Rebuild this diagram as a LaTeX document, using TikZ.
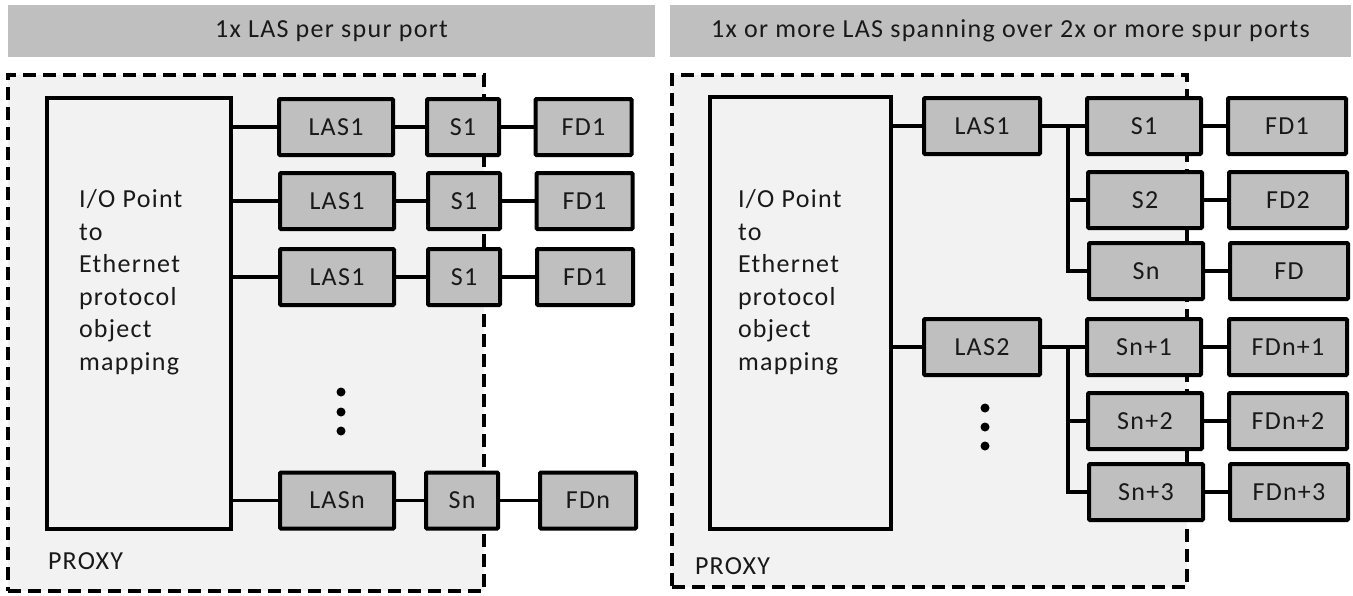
\documentclass[tikz,border=0pt]{standalone}
\usepackage{fontspec}
\setmainfont{Carlito}[LetterSpace=5]
\definecolor{barGray}{HTML}{BFBFBF}
\definecolor{boxGray}{HTML}{BFBFBF}
\definecolor{bgGray}{HTML}{F2F2F2}
\begin{document}
\begin{tikzpicture}[x=1pt,y=-1pt,
  every node/.style={font=\fontsize{26}{32.5}\selectfont, text=black!90, inner sep=0pt, outer sep=0pt},
  bar/.style={fill=barGray, draw=none, minimum height=52pt},
  proxy/.style={draw=black, fill=bgGray, line width=3.3pt, dash pattern=on 13pt off 7pt},
  iobox/.style={draw=black, fill=bgGray, line width=4.5pt},
  blk/.style={draw=black, fill=boxGray, line width=4pt, rounded corners=1pt, minimum height=56pt},
  lasbox/.style={blk, minimum width=114pt},
  sbox/.style={blk, minimum width=72pt},
  fdbox/.style={blk, minimum width=96pt},
  rsbox/.style={blk, minimum width=114pt},
  rfdbox/.style={blk, minimum width=118pt},
  wire/.style={line width=3.2pt},
  dotn/.style={circle, fill=black, minimum size=9pt}]
\useasboundingbox (0,0) rectangle (1353,595);

% ---------------- Left panel ----------------
\node[bar, minimum width=647pt] (titleL) at (331.5,31) {1x LAS per spur port};
\node[proxy, minimum width=476pt, minimum height=516pt] (proxyL) at (246,333) {};
\node[iobox, minimum width=184pt, minimum height=431pt] (ioL) at (139,313.5) {};
\node[align=left, anchor=west] (ioLtext) at (79,282) {I/O Point\\to\\Ethernet\\protocol\\object\\mapping};
\node[anchor=west] (pxL) at (48,561) {PROXY};

\node[lasbox] (lasA) at (336,127) {LAS1};
\node[sbox]   (sA)   at (463,127) {S1};
\node[fdbox]  (fdA)  at (583.5,127) {FD1};
\node[lasbox] (lasB) at (337,201) {LAS1};
\node[sbox]   (sB)   at (464,201) {S1};
\node[fdbox]  (fdB)  at (584.5,201) {FD1};
\node[lasbox] (lasC) at (337,277) {LAS1};
\node[sbox]   (sC)   at (464,277) {S1};
\node[fdbox]  (fdC)  at (585,277) {FD1};
\node[lasbox] (lasN) at (337,500.5) {LASn};
\node[sbox]   (sN)   at (462,500.5) {Sn};
\node[fdbox]  (fdN)  at (588,500.5) {FDn};

\foreach \r in {A,B,C,N}{
  \draw[wire] (ioL.east |- las\r.west) -- (las\r.west);
  \draw[wire] (las\r.east) -- (s\r.west);
  \draw[wire] (s\r.east) -- (fd\r.west);
}
\node[dotn] (dLa) at (341,392) {};
\node[dotn] (dLb) at (341,412) {};
\node[dotn] (dLc) at (341,431) {};

% ---------------- Right panel ----------------
\node[bar, minimum width=681pt] (titleR) at (1010.5,31) {1x or more LAS spanning over 2x or more spur ports};
\node[proxy, minimum width=515pt, minimum height=512pt] (proxyR) at (929.5,331) {};
\node[iobox, minimum width=181pt, minimum height=432pt] (ioR) at (800.5,313) {};
\node[align=left, anchor=west] (ioRtext) at (738,282) {I/O Point\\to\\Ethernet\\protocol\\object\\mapping};
\node[anchor=west] (pxR) at (695,566) {PROXY};

\node[lasbox, minimum width=116pt] (lasR1) at (982,126) {LAS1};
\node[lasbox, minimum width=116pt] (lasR2) at (982,347) {LAS2};

\node[rsbox]  (sR1) at (1144,126) {S1};
\node[rfdbox] (fR1) at (1287,126) {FD1};
\node[rsbox]  (sR2) at (1145,200) {S2};
\node[rfdbox] (fR2) at (1288,200) {FD2};
\node[rsbox]  (sR3) at (1146,271) {Sn};
\node[rfdbox] (fR3) at (1289,271) {FD};
\node[rsbox]  (sR4) at (1144,347) {Sn+1};
\node[rfdbox] (fR4) at (1288,347) {FDn+1};
\node[rsbox]  (sR5) at (1145,421) {Sn+2};
\node[rfdbox] (fR5) at (1288,421) {FDn+2};
\node[rsbox]  (sR6) at (1146,492) {Sn+3};
\node[rfdbox] (fR6) at (1289,492) {FDn+3};

\draw[wire] (ioR.east |- lasR1.west) -- (lasR1.west);
\draw[wire] (ioR.east |- lasR2.west) -- (lasR2.west);

\path (lasR1.east) ++(28,0) coordinate (jA);
\path (lasR2.east) ++(28,0) coordinate (jB);
\draw[wire] (lasR1.east) -- (sR1.west);
\draw[wire] (jA) |- (sR3.west);
\draw[wire] (jA |- sR2.west) -- (sR2.west);
\draw[wire] (lasR2.east) -- (sR4.west);
\draw[wire] (jB) |- (sR6.west);
\draw[wire] (jB |- sR5.west) -- (sR5.west);

\foreach \i in {1,...,6}{
  \draw[wire] (sR\i.east) -- (fR\i.west);
}
\node[dotn] (dRa) at (985,408) {};
\node[dotn] (dRb) at (985,427) {};
\node[dotn] (dRc) at (985,446) {};
\end{tikzpicture}
\end{document}
